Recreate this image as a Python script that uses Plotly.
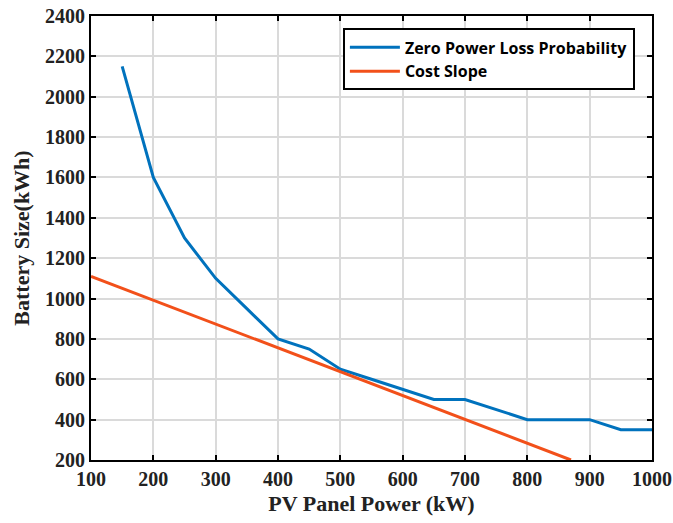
import plotly.graph_objects as go

pv_power = [150, 200, 250, 300, 350, 400, 450, 500, 550, 600, 650, 700, 750, 800, 850, 900, 950, 1000]
battery_zero_loss = [2150, 1600, 1300, 1100, 950, 800, 750, 650, 600, 550, 500, 500, 450, 400, 400, 400, 350, 350]
cost_x = [100, 870]
cost_y = [1110, 200]

x_ticks = [100, 200, 300, 400, 500, 600, 700, 800, 900, 1000]
y_ticks = [200, 400, 600, 800, 1000, 1200, 1400, 1600, 1800, 2000, 2200, 2400]

fig = go.Figure()
fig.add_trace(go.Scatter(x=pv_power, y=battery_zero_loss, mode="lines",
                         name="<b>Zero Power Loss Probability</b>",
                         line=dict(color="#0072BD", width=3)))
fig.add_trace(go.Scatter(x=cost_x, y=cost_y, mode="lines",
                         name="<b>Cost Slope</b>",
                         line=dict(color="#F2501A", width=3)))

axis_common = dict(showline=True, linecolor="black", linewidth=2, mirror="ticks",
                   ticks="inside", ticklen=5, tickwidth=2, tickcolor="black",
                   showgrid=True, gridcolor="#DADADA", gridwidth=1.5, zeroline=False,
                   automargin=False,
                   tickfont=dict(family="Liberation Serif", size=20, color="#222", weight="bold"))

fig.update_xaxes(range=[100, 1000], tickvals=x_ticks,
                 title=dict(text="<b>PV Panel Power (kW)</b>", standoff=7,
                            font=dict(family="Liberation Serif", size=22, color="#222")),
                 **axis_common)
fig.update_yaxes(range=[200, 2400], tickvals=y_ticks,
                 title=dict(text="<b>Battery Size(kWh)</b>", standoff=9,
                            font=dict(family="Liberation Serif", size=22, color="#222")),
                 **axis_common)

fig.update_layout(
    width=673, height=523,
    margin=dict(l=91, r=21, t=16, b=63),
    plot_bgcolor="white", paper_bgcolor="white",
    legend=dict(x=0.449, y=0.972, xanchor="left", yanchor="top",
                bgcolor="white", bordercolor="black", borderwidth=2,
                font=dict(family="Open Sans", size=16, color="black"),
                itemwidth=50, tracegroupgap=0),
    showlegend=True,
)

fig.write_html("out.html")
